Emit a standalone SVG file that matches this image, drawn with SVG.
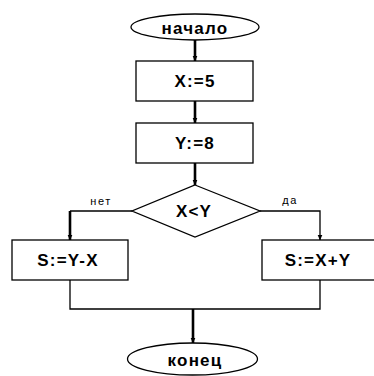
<svg xmlns="http://www.w3.org/2000/svg" width="374" height="376" viewBox="0 0 374 376">
<defs>
<style>
.sh{fill:#fff;stroke:#000;stroke-width:1.3}
.t{font-family:"Liberation Sans",Arial,sans-serif;font-weight:bold;font-size:17px;text-anchor:middle;fill:#000;letter-spacing:1.2px}
.s{font-family:"Liberation Sans",Arial,sans-serif;font-size:11px;text-anchor:middle;fill:#000;letter-spacing:1.5px}
.thin{fill:none;stroke:#000;stroke-width:1.3}
.thick{fill:none;stroke:#000;stroke-width:2.6}
</style>
<marker id="ah" viewBox="0 0 6 6" refX="5.5" refY="3" markerWidth="6" markerHeight="6" markerUnits="userSpaceOnUse" orient="auto">
<path d="M0,0.5 L6,3 L0,5.5 Z" fill="#000"/>
</marker>
</defs>
<rect width="374" height="376" fill="#fff"/>
<g id="connectors">
<path class="thick" d="M195,40 V61" marker-end="url(#ah)"/>
<path class="thick" d="M195,101 V123" marker-end="url(#ah)"/>
<path class="thick" d="M195,163 V185" marker-end="url(#ah)"/>
<path class="thin" d="M132,211 H70"/>
<path class="thick" d="M70,211 V240" marker-end="url(#ah)"/>
<path class="thin" d="M260,211 H320 V240" marker-end="url(#ah)"/>
<path class="thin" d="M70,280 V309 H193"/>
<path class="thin" d="M320,280 V309 H193"/>
<path class="thick" d="M193,309 V343" marker-end="url(#ah)"/>
<text class="s" x="101" y="205">нет</text>
<text class="s" x="290" y="204">да</text>
</g>
<g id="start">
<ellipse class="sh" cx="195" cy="27" rx="64" ry="13"/>
<text class="t" x="195" y="34">начало</text>
</g>
<g id="x5">
<rect class="sh" x="136" y="61" width="117" height="40"/>
<text class="t" x="195" y="87">X:=5</text>
</g>
<g id="y8">
<rect class="sh" x="136" y="123" width="117" height="40"/>
<text class="t" x="195" y="149">Y:=8</text>
</g>
<g id="cond">
<polygon class="sh" points="195,185 260,211 195,237 132,211"/>
<text class="t" x="194" y="217">X&lt;Y</text>
</g>
<g id="syx">
<rect class="sh" x="12" y="240" width="116" height="40"/>
<text class="t" x="68" y="266">S:=Y-X</text>
</g>
<g id="sxy">
<rect class="sh" x="262" y="240" width="116" height="40"/>
<text class="t" x="318" y="266">S:=X+Y</text>
</g>
<g id="end">
<ellipse class="sh" cx="192.5" cy="359" rx="65" ry="16"/>
<text class="t" x="195" y="366">конец</text>
</g>
</svg>
